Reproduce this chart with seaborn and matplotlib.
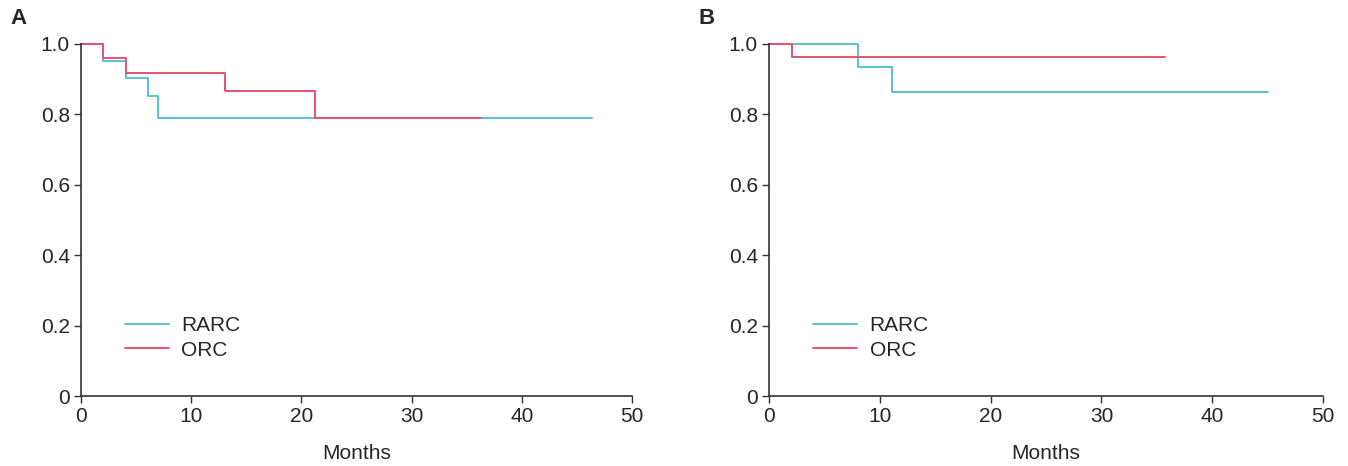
import matplotlib
matplotlib.use("Agg")
import matplotlib.pyplot as plt
import pandas as pd
import seaborn as sns

# Kaplan-Meier step values (month, survival after step)
a_rarc_months = [0, 2, 4.1, 6.1, 7.0, 46.4]
a_rarc_surv = [1.0, 0.952, 0.902, 0.852, 0.79, 0.79]
a_orc_months = [0, 2, 4.1, 13.1, 21.2, 36.3]
a_orc_surv = [1.0, 0.961, 0.917, 0.866, 0.79, 0.79]

b_rarc_months = [0, 8.0, 11.1, 45.0]
b_rarc_surv = [1.0, 0.936, 0.865, 0.865]
b_orc_months = [0, 2.05, 35.7]
b_orc_surv = [1.0, 0.963, 0.963]

groups = ["RARC", "ORC"]
colors = {"RARC": "#55c4d3", "ORC": "#e8506f"}
x_ticks = [0, 10, 20, 30, 40, 50]
y_ticks = [0, 0.2, 0.4, 0.6, 0.8, 1.0]
y_ticklabels = ["0", "0.2", "0.4", "0.6", "0.8", "1.0"]


def make_df(rm, rs, om, os_):
    return pd.concat([
        pd.DataFrame({"Months": rm, "Survival": rs, "Group": "RARC"}),
        pd.DataFrame({"Months": om, "Survival": os_, "Group": "ORC"}),
    ], ignore_index=True)


df_a = make_df(a_rarc_months, a_rarc_surv, a_orc_months, a_orc_surv)
df_b = make_df(b_rarc_months, b_rarc_surv, b_orc_months, b_orc_surv)

sns.set_style("ticks")
plt.rcParams["font.family"] = ["Liberation Sans Narrow", "Liberation Sans", "DejaVu Sans"]

fig = plt.figure(figsize=(13.48, 4.66), dpi=100)
ax_a = fig.add_axes([0.0601, 0.1502, 0.4087, 0.7554])
ax_b = fig.add_axes([0.5705, 0.1502, 0.4110, 0.7554])

for ax, df, letter in [(ax_a, df_a, "A"), (ax_b, df_b, "B")]:
    sns.lineplot(data=df, x="Months", y="Survival", hue="Group",
                 hue_order=groups, palette=colors, drawstyle="steps-post",
                 estimator=None, sort=False, linewidth=1.4, ax=ax)
    ax.set_xlim(0, 50)
    ax.set_ylim(0, 1.0)
    ax.set_xticks(x_ticks)
    ax.set_yticks(y_ticks)
    ax.set_yticklabels(y_ticklabels)
    ax.set_xlabel("Months", fontsize=15, labelpad=13)
    ax.set_ylabel("")
    ax.tick_params(labelsize=15, length=5, width=1, color="#333333", pad=3)
    for s in ["top", "right"]:
        ax.spines[s].set_visible(False)
    for s in ["left", "bottom"]:
        ax.spines[s].set_linewidth(1.2)
        ax.spines[s].set_color("#333333")
        ax.spines[s].set_clip_on(False)
    for line in ax.lines:
        line.set_clip_on(False)
    ax.legend(loc="lower left", bbox_to_anchor=(0.065, 0.08), frameon=False,
              fontsize=15, handlelength=2.1, handletextpad=0.6,
              labelspacing=0.25, borderaxespad=0)

fig.text(0.008, 0.96, "A", fontsize=16, fontweight="bold", va="center")
fig.text(0.518, 0.96, "B", fontsize=16, fontweight="bold", va="center")

fig.savefig("out.png", dpi=100)
